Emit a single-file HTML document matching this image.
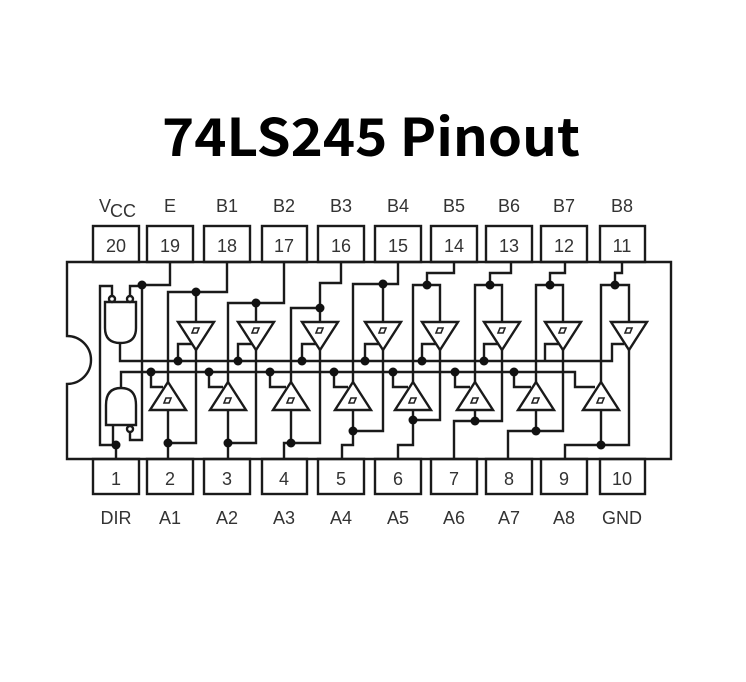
<!DOCTYPE html>
<html><head><meta charset="utf-8"><style>
html,body{margin:0;padding:0;background:#fff;}
svg{display:block;}
.t{font-family:"Liberation Sans",sans-serif;font-size:18px;fill:#333;text-anchor:middle;}
</style></head><body>
<svg width="746" height="682" viewBox="0 0 746 682" xmlns="http://www.w3.org/2000/svg">
<text x="371" y="156" font-family="'Noto Sans CJK SC','Liberation Sans',sans-serif" font-weight="bold" font-size="52" text-anchor="middle" textLength="418" lengthAdjust="spacingAndGlyphs" fill="#000">74LS245 Pinout</text>
<g fill="none" stroke="#1a1a1a" stroke-width="2.4">
<path d="M67,262 H671 V459 H67 V384 A24,24 0 0 0 67,336 Z"/>
<rect x="93" y="226" width="46" height="36"/><rect x="147" y="226" width="46" height="36"/>
<rect x="204" y="226" width="46" height="36"/><rect x="262" y="226" width="45" height="36"/>
<rect x="318" y="226" width="46" height="36"/><rect x="375" y="226" width="46" height="36"/>
<rect x="431" y="226" width="46" height="36"/><rect x="486" y="226" width="46" height="36"/>
<rect x="541" y="226" width="46" height="36"/><rect x="600" y="226" width="45" height="36"/>
<rect x="93" y="459" width="46" height="35"/><rect x="147" y="459" width="46" height="35"/>
<rect x="204" y="459" width="46" height="35"/><rect x="262" y="459" width="45" height="35"/>
<rect x="318" y="459" width="46" height="35"/><rect x="375" y="459" width="46" height="35"/>
<rect x="431" y="459" width="46" height="35"/><rect x="486" y="459" width="46" height="35"/>
<rect x="541" y="459" width="46" height="35"/><rect x="600" y="459" width="45" height="35"/>
<path d="M105,302 L136,302 L136,328 Q136,343 120.5,343 Q105,343 105,328 Z"/>
<circle cx="112" cy="299" r="3"/><circle cx="130" cy="299" r="3"/>
<path d="M106,425 L136,425 L136,405 Q136,388 121,388 Q106,388 106,405 Z"/>
<circle cx="130" cy="429" r="3"/>
<polyline points="112,296 112,286 100,286 100,445 116,445 116,459"/>
<polyline points="130,296 130,286 142,286"/>
<polyline points="170,262 170,285 142,285 142,440 130,440 130,432"/>
<polyline points="113,425 113,445"/>
<polyline points="120,343 120,361 612,361 612,344 624,344"/>
<polyline points="121,388 121,372 575,372 575,387 595,387"/>
<polyline points="178,361 178,344 192,344"/><polyline points="238,361 238,344 252,344"/>
<polyline points="302,361 302,344 316,344"/><polyline points="365,361 365,344 379,344"/>
<polyline points="422,361 422,344 436,344"/><polyline points="484,361 484,344 498,344"/>
<polyline points="545,361 545,344 559,344"/>
<polyline points="151,372 151,387 163,387"/><polyline points="209,372 209,387 223,387"/>
<polyline points="270,372 270,387 286,387"/><polyline points="334,372 334,387 348,387"/>
<polyline points="393,372 393,387 408,387"/><polyline points="455,372 455,387 470,387"/>
<polyline points="514,372 514,387 531,387"/>
<polyline points="227,262 227,292 168,292 168,382"/><polyline points="196,292 196,322"/>
<polyline points="196,350 196,443 168,443"/><polyline points="168,410 168,459"/>
<polyline points="284,262 284,303 228,303 228,382"/><polyline points="256,303 256,322"/>
<polyline points="256,350 256,443 228,443"/><polyline points="228,410 228,459"/>
<polyline points="341,262 341,283 320,283 320,308 291,308 291,382"/><polyline points="320,308 320,322"/>
<polyline points="320,350 320,443 284,443 284,459"/><polyline points="291,410 291,443"/>
<polyline points="398,262 398,284 353,284 353,382"/><polyline points="383,284 383,322"/>
<polyline points="383,350 383,431 353,431"/><polyline points="353,410 353,445 342,445 342,459"/>
<polyline points="454,262 454,273 427,273 427,285 413,285 413,382"/><polyline points="427,285 440,285 440,322"/>
<polyline points="440,350 440,420 413,420"/><polyline points="413,410 413,445 398,445 398,459"/>
<polyline points="511,262 511,273 490,273 490,285 475,285 475,382"/><polyline points="490,285 502,285 502,322"/>
<polyline points="502,350 502,421 475,421"/><polyline points="475,410 475,421 454,421 454,459"/>
<polyline points="565,262 565,273 550,273 550,285 536,285 536,382"/><polyline points="550,285 563,285 563,322"/>
<polyline points="563,350 563,431 536,431"/><polyline points="536,410 536,431 508,431 508,459"/>
<polyline points="622,262 622,273 615,273 615,285 601,285 601,382"/><polyline points="615,285 629,285 629,322"/>
<polyline points="629,350 629,445 601,445"/><polyline points="601,410 601,445 565,445 565,459"/>
<g fill="#fff">
<polygon points="178,322 214,322 196,350"/><polygon points="238,322 274,322 256,350"/>
<polygon points="302,322 338,322 320,350"/><polygon points="365,322 401,322 383,350"/>
<polygon points="422,322 458,322 440,350"/><polygon points="484,322 520,322 502,350"/>
<polygon points="545,322 581,322 563,350"/><polygon points="611,322 647,322 629,350"/>
<polygon points="150,410 186,410 168,382"/><polygon points="210,410 246,410 228,382"/>
<polygon points="273,410 309,410 291,382"/><polygon points="335,410 371,410 353,382"/>
<polygon points="395,410 431,410 413,382"/><polygon points="457,410 493,410 475,382"/>
<polygon points="518,410 554,410 536,382"/><polygon points="583,410 619,410 601,382"/>
</g>
</g>
<g fill="none" stroke="#222" stroke-width="1.6">
<path d="M192,333 h5 l2,-5 h-5 z M252,333 h5 l2,-5 h-5 z M316,333 h5 l2,-5 h-5 z M379,333 h5 l2,-5 h-5 z M436,333 h5 l2,-5 h-5 z M498,333 h5 l2,-5 h-5 z M559,333 h5 l2,-5 h-5 z M625,333 h5 l2,-5 h-5 z"/>
<path d="M164,403 h5 l2,-5 h-5 z M224,403 h5 l2,-5 h-5 z M287,403 h5 l2,-5 h-5 z M349,403 h5 l2,-5 h-5 z M409,403 h5 l2,-5 h-5 z M471,403 h5 l2,-5 h-5 z M532,403 h5 l2,-5 h-5 z M597,403 h5 l2,-5 h-5 z"/>
</g>
<g fill="#111">
<circle cx="142" cy="285" r="4.5"/><circle cx="116" cy="445" r="4.5"/>
<circle cx="196" cy="292" r="4.5"/><circle cx="168" cy="443" r="4.5"/>
<circle cx="256" cy="303" r="4.5"/><circle cx="228" cy="443" r="4.5"/>
<circle cx="320" cy="308" r="4.5"/><circle cx="291" cy="443" r="4.5"/>
<circle cx="383" cy="284" r="4.5"/><circle cx="353" cy="431" r="4.5"/>
<circle cx="427" cy="285" r="4.5"/><circle cx="413" cy="420" r="4.5"/>
<circle cx="490" cy="285" r="4.5"/><circle cx="475" cy="421" r="4.5"/>
<circle cx="550" cy="285" r="4.5"/><circle cx="536" cy="431" r="4.5"/>
<circle cx="615" cy="285" r="4.5"/><circle cx="601" cy="445" r="4.5"/>
<circle cx="178" cy="361" r="4.5"/><circle cx="238" cy="361" r="4.5"/><circle cx="302" cy="361" r="4.5"/>
<circle cx="365" cy="361" r="4.5"/><circle cx="422" cy="361" r="4.5"/><circle cx="484" cy="361" r="4.5"/>
<circle cx="151" cy="372" r="4.5"/><circle cx="209" cy="372" r="4.5"/><circle cx="270" cy="372" r="4.5"/>
<circle cx="334" cy="372" r="4.5"/><circle cx="393" cy="372" r="4.5"/><circle cx="455" cy="372" r="4.5"/>
<circle cx="514" cy="372" r="4.5"/>
</g>
<text class="t" x="105" y="212">V</text><text class="t" x="123" y="217" font-size="17">CC</text>
<text class="t" x="170" y="212">E</text><text class="t" x="227" y="212">B1</text>
<text class="t" x="284" y="212">B2</text><text class="t" x="341" y="212">B3</text>
<text class="t" x="398" y="212">B4</text><text class="t" x="454" y="212">B5</text>
<text class="t" x="509" y="212">B6</text><text class="t" x="564" y="212">B7</text>
<text class="t" x="622" y="212">B8</text>
<text class="t" x="116" y="252">20</text><text class="t" x="170" y="252">19</text>
<text class="t" x="227" y="252">18</text><text class="t" x="284" y="252">17</text>
<text class="t" x="341" y="252">16</text><text class="t" x="398" y="252">15</text>
<text class="t" x="454" y="252">14</text><text class="t" x="509" y="252">13</text>
<text class="t" x="564" y="252">12</text><text class="t" x="622" y="252">11</text>
<text class="t" x="116" y="485">1</text><text class="t" x="170" y="485">2</text>
<text class="t" x="227" y="485">3</text><text class="t" x="284" y="485">4</text>
<text class="t" x="341" y="485">5</text><text class="t" x="398" y="485">6</text>
<text class="t" x="454" y="485">7</text><text class="t" x="509" y="485">8</text>
<text class="t" x="564" y="485">9</text><text class="t" x="622" y="485">10</text>
<text class="t" x="116" y="524">DIR</text><text class="t" x="170" y="524">A1</text>
<text class="t" x="227" y="524">A2</text><text class="t" x="284" y="524">A3</text>
<text class="t" x="341" y="524">A4</text><text class="t" x="398" y="524">A5</text>
<text class="t" x="454" y="524">A6</text><text class="t" x="509" y="524">A7</text>
<text class="t" x="564" y="524">A8</text><text class="t" x="622" y="524">GND</text>
</svg>
</body></html>
